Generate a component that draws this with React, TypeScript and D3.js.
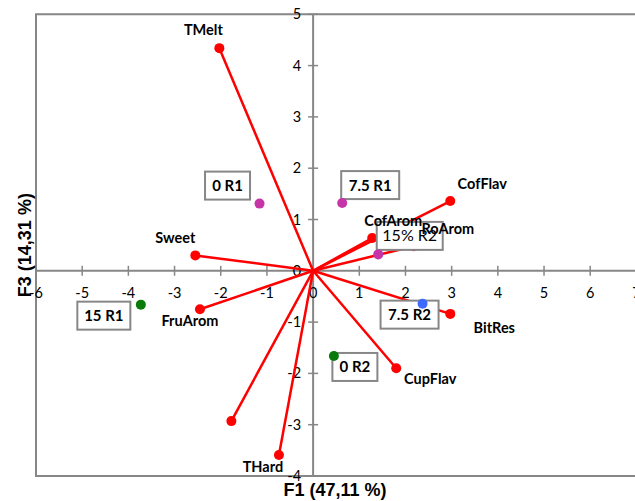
import * as d3 from "d3";

const W = 635;
const H = 501;

// loading vectors (F1, F3)
const varNames = ["TMelt", "Sweet", "FruArom", "", "THard", "CupFlav", "BitRes", "CofFlav", "CofArom", "RoArom"];
const varF1 = [-2.03, -2.55, -2.45, -1.77, -0.74, 1.8, 2.97, 2.97, 1.28, 2.18];
const varF3 = [4.34, 0.3, -0.75, -2.93, -3.59, -1.9, -0.84, 1.36, 0.64, 0.48];

// observations
const obsNames = ["0 R1", "7.5 R1", "15% R2", "15 R1", "7.5 R2", "0 R2"];
const obsF1 = [-1.16, 0.63, 1.41, -3.73, 2.37, 0.45];
const obsF3 = [1.31, 1.32, 0.32, -0.66, -0.64, -1.66];
const obsGroup = ["a", "a", "a", "b", "c", "b"];

const xTicks = [-6, -5, -4, -3, -2, -1, 0, 1, 2, 3, 4, 5, 6, 7];
const yTicks = [-4, -3, -2, -1, 0, 1, 2, 3, 4, 5];

// label placement (pixel offsets from point)
const varLabelOff: Record<string, [number, number]> = {
  TMelt: [-16, -13],
  Sweet: [-20, -12],
  FruArom: [-10, 17],
  THard: [-16, 17],
  CupFlav: [34, 16],
  BitRes: [44, 19],
  CofFlav: [32, -12],
  CofArom: [21, -12],
  RoArom: [34, -12],
};
const boxOff: Record<string, [number, number, number]> = {
  "0 R1": [-32, -18, 45],
  "7.5 R1": [28, -18, 58],
  "15% R2": [31.5, -18.5, 66],
  "15 R1": [-37, 11, 53],
  "7.5 R2": [-13, 11, 58],
  "0 R2": [21, 11, 45],
};

const groupColor = d3.scaleOrdinal<string, string>().domain(["a", "b", "c"]).range(["#c535a8", "#0a7a0a", "#3d6bff"]);

export default function App() {
  const x = d3.scaleLinear().domain([-6, 7]).range([36, 636.4]);
  const y = d3.scaleLinear().domain([-4, 5]).range([476, 14.3]);
  const x0 = x(0);
  const y0 = y(0);
  const axisCol = "#878787";
  const font = "Lato, 'Open Sans', sans-serif";
  const titleFont = "'Liberation Sans', Arial, sans-serif";

  return (
    <svg width={W} height={H} style={{ position: "absolute", left: 0, top: 0, background: "#fff" }}>
      <rect x={0} y={0} width={W} height={H} fill="#fff" />
      {/* plot border */}
      <path
        d={`M${x(7)},${y(5)}H${x(-6)}V${y(-4)}H${x(7)}`}
        fill="none"
        stroke={axisCol}
        strokeWidth={2}
      />
      {/* axes through origin */}
      <line x1={x(-6)} x2={x(7)} y1={y0} y2={y0} stroke={axisCol} strokeWidth={2} />
      <line x1={x0} x2={x0} y1={y(5)} y2={y(-4)} stroke={axisCol} strokeWidth={2} />
      {xTicks.map((t) => (
        <g key={"xt" + t}>
          {t !== 0 && <line x1={x(t)} x2={x(t)} y1={y0 - 5} y2={y0 + 5} stroke={axisCol} strokeWidth={1.5} />}
          <text x={x(t)} y={y0 + 27} textAnchor="middle" fontFamily={font} fontSize={14.5} fill="#000">
            {t}
          </text>
        </g>
      ))}
      {yTicks.map((t) => (
        <g key={"yt" + t}>
          {t !== 0 && <line x1={x0 - 5} x2={x0 + 5} y1={y(t)} y2={y(t)} stroke={axisCol} strokeWidth={1.5} />}
          <text x={x0 - 12} y={y(t) + 5} textAnchor="end" fontFamily={font} fontSize={14.5} fill="#000">
            {t}
          </text>
        </g>
      ))}

      {/* loading vectors */}
      {varNames.map((n, i) => (
        <g key={"v" + i}>
          <line x1={x0} y1={y0} x2={x(varF1[i])} y2={y(varF3[i])} stroke="#ff0000" strokeWidth={2.5} />
          <circle cx={x(varF1[i])} cy={y(varF3[i])} r={5} fill="#ff0000" />
        </g>
      ))}

      {/* observations */}
      {obsNames.map((n, i) => {
        const px = x(obsF1[i]);
        const py = y(obsF3[i]);
        const [dx, dy, bw] = boxOff[n];
        const bh = 28;
        const bold = n !== "15% R2";
        return (
          <g key={"o" + i}>
            <rect
              x={px + dx - bw / 2}
              y={py + dy - bh / 2}
              width={bw}
              height={bh}
              fill="#fff"
              stroke={axisCol}
              strokeWidth={2}
            />
            <text
              x={px + dx}
              y={py + dy + 5.5}
              textAnchor="middle"
              fontFamily={font}
              fontWeight={bold ? 700 : 400}
              fontSize={bold ? 15 : 16}
              fill="#000"
            >
              {n}
            </text>
            <circle cx={px} cy={py} r={5} fill={groupColor(obsGroup[i])} />
          </g>
        );
      })}

      {/* vector labels */}
      {varNames.map((n, i) =>
        n ? (
          <text
            key={"vl" + i}
            x={x(varF1[i]) + varLabelOff[n][0]}
            y={y(varF3[i]) + varLabelOff[n][1]}
            textAnchor="middle"
            fontFamily={font}
            fontWeight={700}
            fontSize={14.5}
            fill="#000"
          >
            {n}
          </text>
        ) : null
      )}

      {/* axis titles */}
      <text x={335} y={496} textAnchor="middle" fontFamily={titleFont} fontWeight={700} fontSize={18}>
        F1 (47,11 %)
      </text>
      <text
        transform={`translate(31,${(y(5) + y(-4)) / 2}) rotate(-90)`}
        textAnchor="middle"
        fontFamily={titleFont}
        fontWeight={700}
        fontSize={18}
      >
        F3 (14,31 %)
      </text>
    </svg>
  );
}
